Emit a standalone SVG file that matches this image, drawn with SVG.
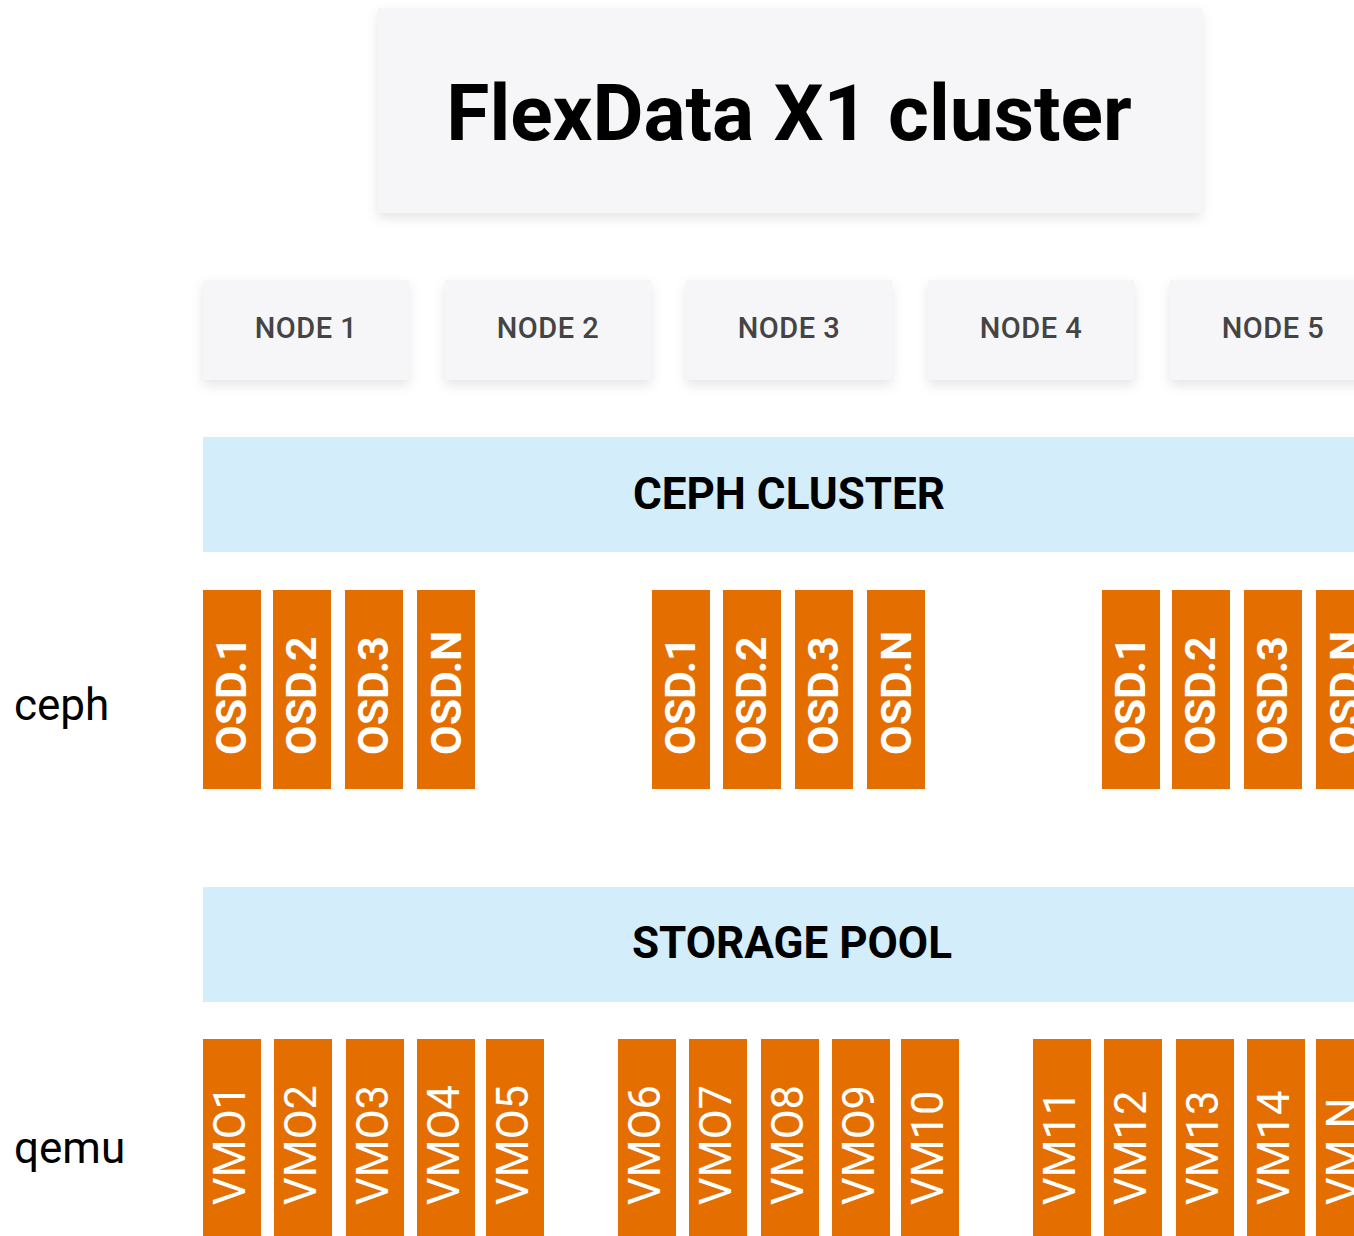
<svg xmlns="http://www.w3.org/2000/svg" width="1354" height="1236" viewBox="0 0 1354 1236">
<defs>
<filter id="sh" x="-20%" y="-20%" width="140%" height="160%">
<feDropShadow dx="0" dy="5" stdDeviation="6" flood-color="#000" flood-opacity="0.10"/>
</filter>
<style>
.card{fill:#f6f6f8;filter:url(#sh)}
.bar{fill:#d3edfa}
.blk{fill:#e46f00}
.title{font-family:Roboto,"Liberation Sans",sans-serif;font-weight:700;font-size:78.5px;fill:#000;text-anchor:middle}
.node{font-family:Roboto,"Liberation Sans",sans-serif;font-weight:500;font-size:29px;fill:#444;text-anchor:middle;letter-spacing:0.5px}
.bartxt{font-family:Roboto,"Liberation Sans",sans-serif;font-weight:700;font-size:44px;fill:#000;text-anchor:middle}
.osd{font-family:Roboto,"Liberation Sans",sans-serif;font-weight:700;font-size:43px;fill:#fff}
.vm{font-family:Roboto,"Liberation Sans",sans-serif;font-weight:400;font-size:43.5px;fill:#fff}
.side{font-family:Roboto,"Liberation Sans",sans-serif;font-weight:400;font-size:44px;fill:#000}
</style>
</defs>
<rect width="1354" height="1236" fill="#fff"/>
<g id="title">
<rect class="card" x="378" y="8" width="824" height="205"/>
<text class="title" x="789" y="140">FlexData X1 cluster</text>
</g>
<g id="node1"><rect class="card" x="203" y="280" width="206" height="100"/><text class="node" x="306" y="338">NODE 1</text></g>
<g id="node2"><rect class="card" x="445" y="280" width="206" height="100"/><text class="node" x="548" y="338">NODE 2</text></g>
<g id="node3"><rect class="card" x="686" y="280" width="206" height="100"/><text class="node" x="789" y="338">NODE 3</text></g>
<g id="node4"><rect class="card" x="928" y="280" width="206" height="100"/><text class="node" x="1031" y="338">NODE 4</text></g>
<g id="node5"><rect class="card" x="1170" y="280" width="206" height="100"/><text class="node" x="1273" y="338">NODE 5</text></g>
<g id="ceph-cluster">
<rect class="bar" x="203" y="437" width="1172" height="115"/>
<text class="bartxt" x="789" y="509">CEPH CLUSTER</text>
</g>
<g id="osds">
<g id="osd-a1"><rect class="blk" x="203" y="590" width="58" height="199"/><text class="osd" transform="translate(246 755) rotate(-90)">OSD.1</text></g>
<g id="osd-a2"><rect class="blk" x="273" y="590" width="58" height="199"/><text class="osd" transform="translate(316 755) rotate(-90)">OSD.2</text></g>
<g id="osd-a3"><rect class="blk" x="345" y="590" width="58" height="199"/><text class="osd" transform="translate(388 755) rotate(-90)">OSD.3</text></g>
<g id="osd-a4"><rect class="blk" x="417" y="590" width="58" height="199"/><text class="osd" transform="translate(461 755) rotate(-90)">OSD.N</text></g>
<g id="osd-b1"><rect class="blk" x="652" y="590" width="58" height="199"/><text class="osd" transform="translate(695 755) rotate(-90)">OSD.1</text></g>
<g id="osd-b2"><rect class="blk" x="723" y="590" width="58" height="199"/><text class="osd" transform="translate(766 755) rotate(-90)">OSD.2</text></g>
<g id="osd-b3"><rect class="blk" x="795" y="590" width="58" height="199"/><text class="osd" transform="translate(838 755) rotate(-90)">OSD.3</text></g>
<g id="osd-b4"><rect class="blk" x="867" y="590" width="58" height="199"/><text class="osd" transform="translate(911 755) rotate(-90)">OSD.N</text></g>
<g id="osd-c1"><rect class="blk" x="1102" y="590" width="58" height="199"/><text class="osd" transform="translate(1145 755) rotate(-90)">OSD.1</text></g>
<g id="osd-c2"><rect class="blk" x="1172" y="590" width="58" height="199"/><text class="osd" transform="translate(1215 755) rotate(-90)">OSD.2</text></g>
<g id="osd-c3"><rect class="blk" x="1244" y="590" width="58" height="199"/><text class="osd" transform="translate(1287 755) rotate(-90)">OSD.3</text></g>
<g id="osd-c4"><rect class="blk" x="1316" y="590" width="58" height="199"/><text class="osd" transform="translate(1360 755) rotate(-90)">OSD.N</text></g>
</g>
<g id="storage-pool">
<rect class="bar" x="203" y="887" width="1172" height="115"/>
<text class="bartxt" x="792" y="958">STORAGE POOL</text>
</g>
<g id="vms">
<g id="vm01"><rect class="blk" x="203" y="1039" width="58" height="197"/><text class="vm" transform="translate(245 1205) rotate(-90)">VMO1</text></g>
<g id="vm02"><rect class="blk" x="274" y="1039" width="58" height="197"/><text class="vm" transform="translate(316 1205) rotate(-90)">VMO2</text></g>
<g id="vm03"><rect class="blk" x="346" y="1039" width="58" height="197"/><text class="vm" transform="translate(388 1205) rotate(-90)">VMO3</text></g>
<g id="vm04"><rect class="blk" x="417" y="1039" width="58" height="197"/><text class="vm" transform="translate(459 1205) rotate(-90)">VMO4</text></g>
<g id="vm05"><rect class="blk" x="486" y="1039" width="58" height="197"/><text class="vm" transform="translate(528 1205) rotate(-90)">VMO5</text></g>
<g id="vm06"><rect class="blk" x="618" y="1039" width="58" height="197"/><text class="vm" transform="translate(660 1205) rotate(-90)">VMO6</text></g>
<g id="vm07"><rect class="blk" x="689" y="1039" width="58" height="197"/><text class="vm" transform="translate(731 1205) rotate(-90)">VMO7</text></g>
<g id="vm08"><rect class="blk" x="761" y="1039" width="58" height="197"/><text class="vm" transform="translate(803 1205) rotate(-90)">VMO8</text></g>
<g id="vm09"><rect class="blk" x="832" y="1039" width="58" height="197"/><text class="vm" transform="translate(874 1205) rotate(-90)">VMO9</text></g>
<g id="vm10"><rect class="blk" x="901" y="1039" width="58" height="197"/><text class="vm" transform="translate(943 1205) rotate(-90)">VM10</text></g>
<g id="vm11"><rect class="blk" x="1033" y="1039" width="58" height="197"/><text class="vm" transform="translate(1075 1205) rotate(-90)">VM11</text></g>
<g id="vm12"><rect class="blk" x="1104" y="1039" width="58" height="197"/><text class="vm" transform="translate(1146 1205) rotate(-90)">VM12</text></g>
<g id="vm13"><rect class="blk" x="1176" y="1039" width="58" height="197"/><text class="vm" transform="translate(1218 1205) rotate(-90)">VM13</text></g>
<g id="vm14"><rect class="blk" x="1247" y="1039" width="58" height="197"/><text class="vm" transform="translate(1289 1205) rotate(-90)">VM14</text></g>
<g id="vmN"><rect class="blk" x="1316" y="1039" width="58" height="197"/><text class="vm" transform="translate(1358 1205) rotate(-90)">VM N</text></g>
</g>
<g id="labels">
<text class="side" x="14" y="720">ceph</text>
<text class="side" x="14" y="1163">qemu</text>
</g>
<g id="connectors"></g>
</svg>
